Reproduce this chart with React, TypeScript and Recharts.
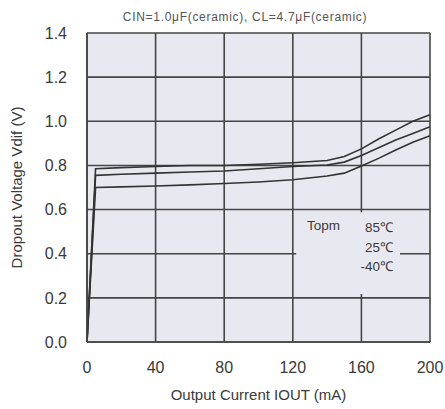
import React from "react";
import { LineChart, Line, XAxis, YAxis, CartesianGrid, ReferenceArea } from "recharts";

const currents = [0, 5, 20, 40, 60, 80, 100, 120, 140, 150, 160, 170, 180, 190, 200];
const v85 = [0, 0.785, 0.79, 0.795, 0.8, 0.8, 0.805, 0.812, 0.822, 0.84, 0.875, 0.92, 0.96, 1.0, 1.03];
const v25 = [0, 0.755, 0.76, 0.765, 0.77, 0.775, 0.785, 0.795, 0.802, 0.815, 0.845, 0.88, 0.915, 0.945, 0.975];
const vm40 = [0, 0.7, 0.703, 0.707, 0.712, 0.718, 0.725, 0.735, 0.752, 0.765, 0.797, 0.832, 0.87, 0.905, 0.935];

const xTicks = [0, 40, 80, 120, 160, 200];
const yTicks = [0, 0.2, 0.4, 0.6, 0.8, 1.0, 1.2, 1.4];

const title = "CIN=1.0\u03bcF(ceramic), CL=4.7\u03bcF(ceramic)";
const xLabel = "Output Current IOUT (mA)";
const yLabel = "Dropout Voltage Vdif (V)";
const legendTitle = "Topm";
const legendItems = ["85\u2103", "25\u2103", "-40\u2103"];

const data = currents.map((c, i) => ({ x: c, a: v85[i], b: v25[i], c: vm40[i] }));

const font = "'Liberation Sans', Arial, sans-serif";
const txt = "#3a3a3a";
const grid = "#454545";
const bg = "#e8e8f1";

export default function App() {
  return (
    <div style={{ position: "absolute", left: 0, top: 0, width: 445, height: 409, background: "#fff", fontFamily: font }}>
      <LineChart width={445} height={409} data={data} margin={{ top: 33, right: 15, left: 0, bottom: 0 }}>
        <CartesianGrid stroke={grid} strokeWidth={1.6} fill={bg} fillOpacity={1} horizontalValues={yTicks} verticalValues={xTicks} />
        <XAxis
          dataKey="x"
          type="number"
          domain={[0, 200]}
          ticks={xTicks}
          height={67}
          tickSize={0}
          tickMargin={20}
          axisLine={{ stroke: grid, strokeWidth: 1.6 }}
          tick={{ fill: txt, fontSize: 16, fontFamily: font }}
          label={{ value: xLabel, position: "insideBottom", offset: 9, fill: txt, fontSize: 15, fontFamily: font }}
        />
        <YAxis
          type="number"
          domain={[0, 1.4]}
          ticks={yTicks}
          width={87}
          tickSize={0}
          tickMargin={20}
          tickFormatter={(v: number) => v.toFixed(1)}
          axisLine={{ stroke: grid, strokeWidth: 1.6 }}
          tick={{ fill: txt, fontSize: 16, fontFamily: font }}
          label={{ value: yLabel, angle: -90, position: "insideLeft", offset: 17, fill: txt, fontSize: 15, fontFamily: font, style: { textAnchor: "middle" } }}
        />
        <ReferenceArea x1={122} x2={182.5} y1={0.218} y2={0.588} fill={bg} fillOpacity={1} stroke="none" />
        <Line dataKey="a" stroke="#333" strokeWidth={1.6} dot={false} isAnimationActive={false} />
        <Line dataKey="b" stroke="#333" strokeWidth={1.6} dot={false} isAnimationActive={false} />
        <Line dataKey="c" stroke="#333" strokeWidth={1.6} dot={false} isAnimationActive={false} />
      </LineChart>
      <div style={{ position: "absolute", left: 0, width: 490, top: 10, textAlign: "center", fontSize: 12, color: "#555", letterSpacing: 0.7 }}>{title}</div>
      <div style={{ position: "absolute", left: 307, top: 218, fontSize: 13.5, color: txt }}>{legendTitle}</div>
      {legendItems.map((t, i) => (
        <div key={t} style={{ position: "absolute", right: 445 - 393, top: 218 + i * 19.5, fontSize: 13.5, color: txt }}>{t}</div>
      ))}
    </div>
  );
}
